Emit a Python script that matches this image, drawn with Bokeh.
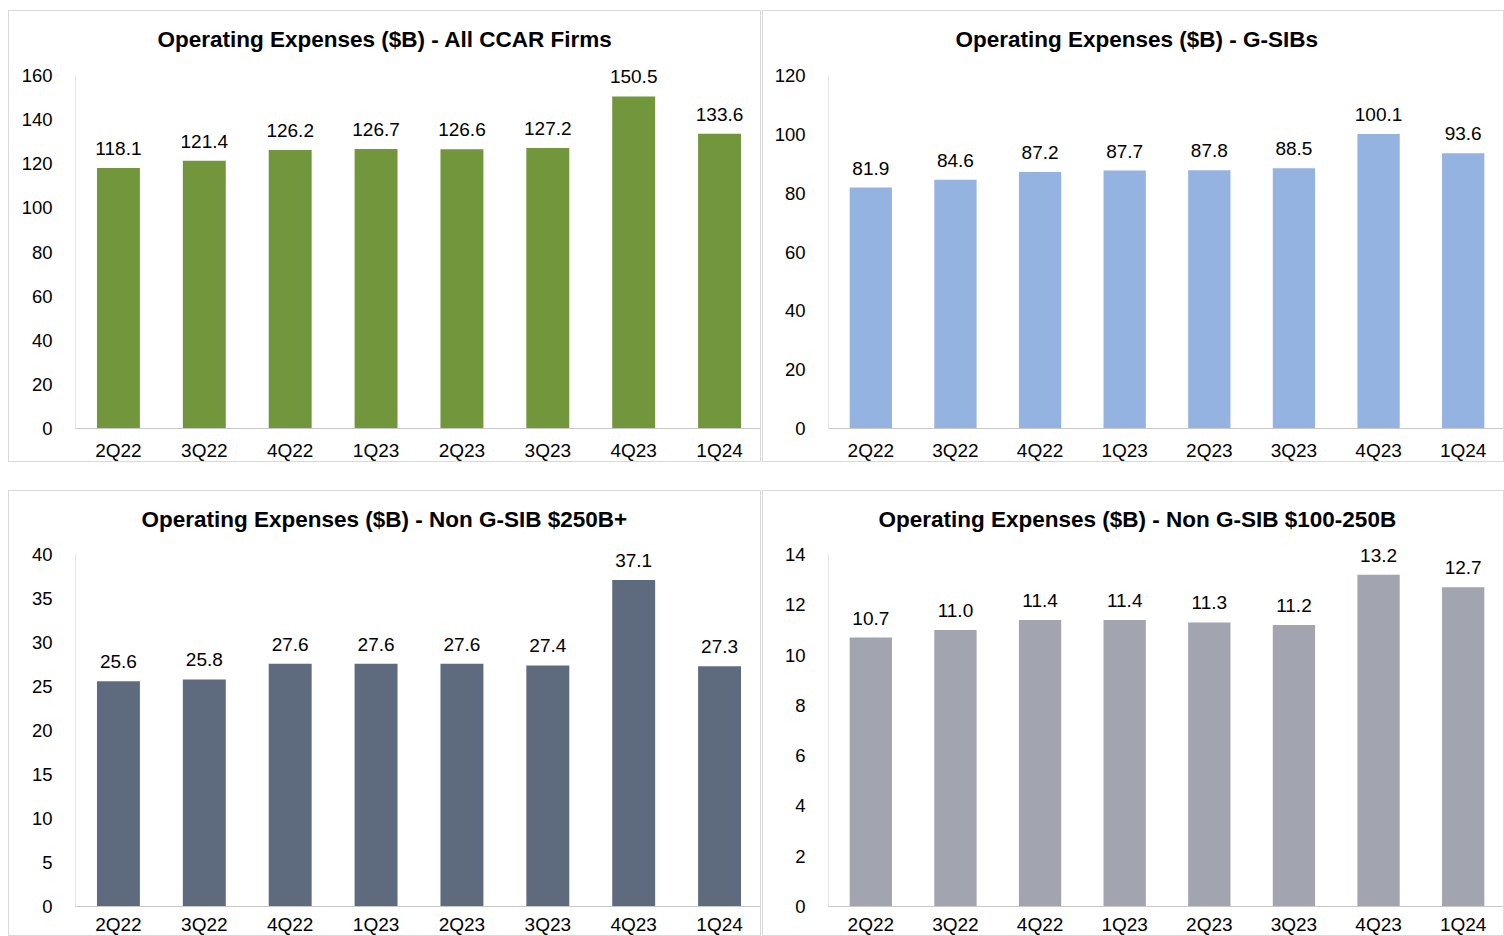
from bokeh.plotting import figure
from bokeh.layouts import row, column
from bokeh.models import FactorRange, Range1d, FixedTicker, ColumnDataSource, LabelSet
from bokeh.transform import dodge
from bokeh.embed import file_html
from bokeh.resources import INLINE
from bokeh.core.properties import value

quarters = ["2Q22", "3Q22", "4Q22", "1Q23", "2Q23", "3Q23", "4Q23", "1Q24"]

all_ccar = [118.1, 121.4, 126.2, 126.7, 126.6, 127.2, 150.5, 133.6]
gsibs = [81.9, 84.6, 87.2, 87.7, 87.8, 88.5, 100.1, 93.6]
non_gsib_250 = [25.6, 25.8, 27.6, 27.6, 27.6, 27.4, 37.1, 27.3]
non_gsib_100_250 = [10.7, 11.0, 11.4, 11.4, 11.3, 11.2, 13.2, 12.7]

titles = [
    "Operating Expenses ($B) - All CCAR Firms",
    "Operating Expenses ($B) - G-SIBs",
    "Operating Expenses ($B) - Non G-SIB $250B+",
    "Operating Expenses ($B) - Non G-SIB $100-250B",
]
y_max = [160, 120, 40, 14]
y_ticks = [
    [0, 20, 40, 60, 80, 100, 120, 140, 160],
    [0, 20, 40, 60, 80, 100, 120],
    [0, 5, 10, 15, 20, 25, 30, 35, 40],
    [0, 2, 4, 6, 8, 10, 12, 14],
]
colors = ["#71963B", "#95B3E1", "#5E6B7E", "#A2A4B0"]

FONT = "Liberation Sans"
AXIS_COLOR = "#c8c8c8"
HEADROOM = 14  # px of frame above the axis top, so top labels are not clipped


def panel(vals, title, ymax, ticks, color, width, height, left, top, bottom,
          title_offset, title_standoff, x_standoff):
    frame_h = height - 2 - top - bottom
    y_end = ymax * frame_h / (frame_h - HEADROOM)
    x_range = FactorRange(*quarters, range_padding=0)
    src = ColumnDataSource(dict(q=quarters, v=vals, lbl=[f"{v:.1f}" for v in vals]))
    p = figure(
        x_range=x_range,
        y_range=Range1d(0, y_end),
        width=width, height=height,
        output_backend="svg", toolbar_location=None,
        min_border_left=left, min_border_right=0,
        min_border_top=top, min_border_bottom=bottom,
        styles={"border": "1px solid #d9d9d9"},
    )
    p.title.text = title
    p.title.text_font = FONT
    p.title.text_font_size = "22.5px"
    p.title.text_font_style = "bold"
    p.title.text_color = "#000000"
    p.title.align = "left"
    p.title.offset = title_offset
    p.title.standoff = title_standoff
    p.outline_line_color = None
    p.xgrid.grid_line_color = None
    p.ygrid.grid_line_color = None

    p.vbar(x="q", top="v", width=0.5, source=src, fill_color=color, line_color=None)
    p.add_layout(LabelSet(x="q", y="v", text="lbl", source=src, text_align="center",
                          text_baseline="alphabetic", y_offset=13,
                          text_font=value(FONT), text_font_size="19px",
                          text_color="#000000"))
    # y axis line only up to the top tick, at the left edge of the first category
    axsrc = ColumnDataSource(dict(xq=[quarters[0]], y0=[0], y1=[ymax]))
    p.segment(x0=dodge("xq", -0.5, range=x_range), y0="y0",
              x1=dodge("xq", -0.5, range=x_range), y1="y1", source=axsrc,
              line_color=AXIS_COLOR, line_width=1)

    p.yaxis.ticker = FixedTicker(ticks=ticks)
    for ax in (p.xaxis[0], p.yaxis[0]):
        ax.major_tick_line_color = None
        ax.minor_tick_line_color = None
        ax.major_tick_in = 0
        ax.major_tick_out = 0
        ax.major_label_text_font = FONT
        ax.major_label_text_color = "#000000"
    p.xaxis.axis_line_color = AXIS_COLOR
    p.yaxis.axis_line_color = None
    p.xaxis.major_label_text_font_size = "19px"
    p.yaxis.major_label_text_font_size = "18.5px"
    p.yaxis.major_label_standoff = 23
    p.xaxis.major_label_standoff = x_standoff
    return p


p1 = panel(all_ccar, titles[0], y_max[0], y_ticks[0], colors[0], 753, 452, 66, 50, 34, 82, 20, 11)
p2 = panel(gsibs, titles[1], y_max[1], y_ticks[1], colors[1], 742, 452, 65, 50, 34, 127, 20, 11)
p3 = panel(non_gsib_250, titles[2], y_max[2], y_ticks[2], colors[2], 753, 446, 66, 49, 30, 66, 18, 7)
p4 = panel(non_gsib_100_250, titles[3], y_max[3], y_ticks[3], colors[3], 742, 446, 65, 49, 30, 50, 18, 7)

layout = column(row(p1, p2, spacing=1), row(p3, p4, spacing=1), spacing=28,
                styles={"margin-top": "10px", "margin-left": "8px"})

open("out.html", "w").write(file_html(layout, INLINE))
